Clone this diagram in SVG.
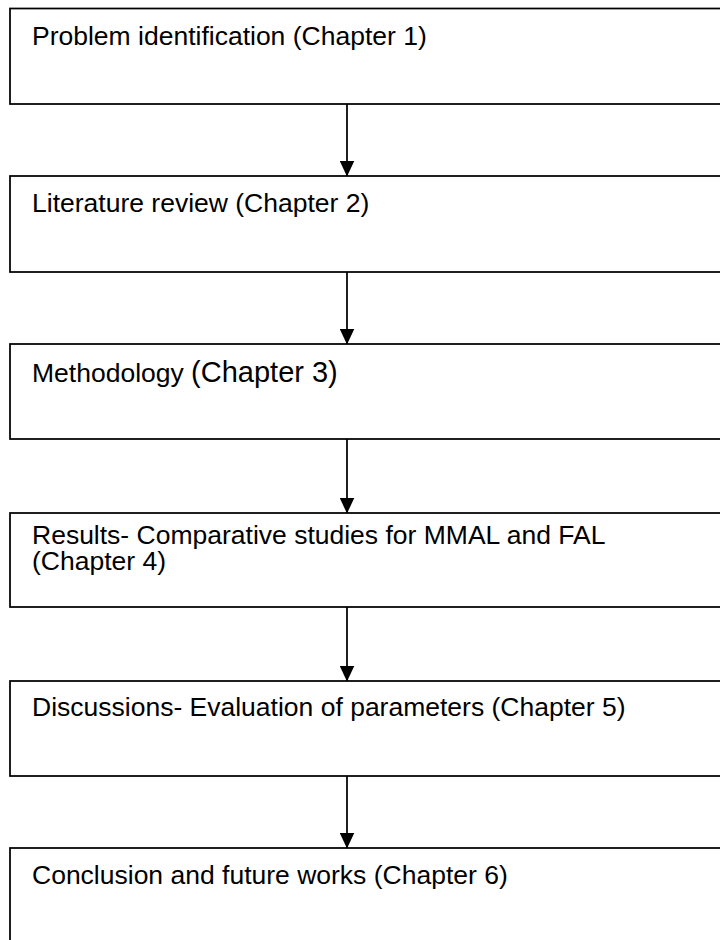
<svg xmlns="http://www.w3.org/2000/svg" width="720" height="940" viewBox="0 0 720 940">
<defs>
<style>
.box{fill:#fff;stroke:#000;stroke-width:1.75}
.t{font-family:"Liberation Sans",Arial,sans-serif;font-size:26.5px;fill:#000}
.big{font-size:29px}
.c{stroke:#000;stroke-width:1.75;fill:none}
</style>
<marker id="ah" markerWidth="16" markerHeight="15" viewBox="0 0 16 15" refX="15.5" refY="7.5" orient="auto" markerUnits="userSpaceOnUse">
<path d="M0,0 L16,7.5 L0,15 Z" fill="#000"/>
</marker>
</defs>
<rect width="720" height="940" fill="#fff"/>
<g id="connectors">
<line class="c" x1="347" y1="104" x2="347" y2="176" marker-end="url(#ah)"/>
<line class="c" x1="347" y1="272" x2="347" y2="344" marker-end="url(#ah)"/>
<line class="c" x1="347" y1="439" x2="347" y2="513" marker-end="url(#ah)"/>
<line class="c" x1="347" y1="607" x2="347" y2="681" marker-end="url(#ah)"/>
<line class="c" x1="347" y1="776" x2="347" y2="848" marker-end="url(#ah)"/>
</g>
<g id="n1"><rect class="box" x="10" y="8.5" width="720" height="95.5"/><text class="t" x="32" y="44.5">Problem identification (Chapter 1)</text></g>
<g id="n2"><rect class="box" x="10" y="176" width="720" height="96"/><text class="t" x="32" y="212">Literature review (Chapter 2)</text></g>
<g id="n3"><rect class="box" x="10" y="344" width="720" height="95"/><text class="t" x="32" y="382">Methodology <tspan class="big">(Chapter 3)</tspan></text></g>
<g id="n4"><rect class="box" x="10" y="513" width="720" height="94"/><text class="t" x="32" y="544">Results- Comparative studies for MMAL and FAL</text><text class="t" x="32" y="570">(Chapter 4)</text></g>
<g id="n5"><rect class="box" x="10" y="681" width="720" height="95"/><text class="t" x="32" y="716">Discussions- Evaluation of parameters (Chapter 5)</text></g>
<g id="n6"><rect class="box" x="10" y="848" width="720" height="120"/><text class="t" x="32" y="884">Conclusion and future works (Chapter 6)</text></g>
</svg>
